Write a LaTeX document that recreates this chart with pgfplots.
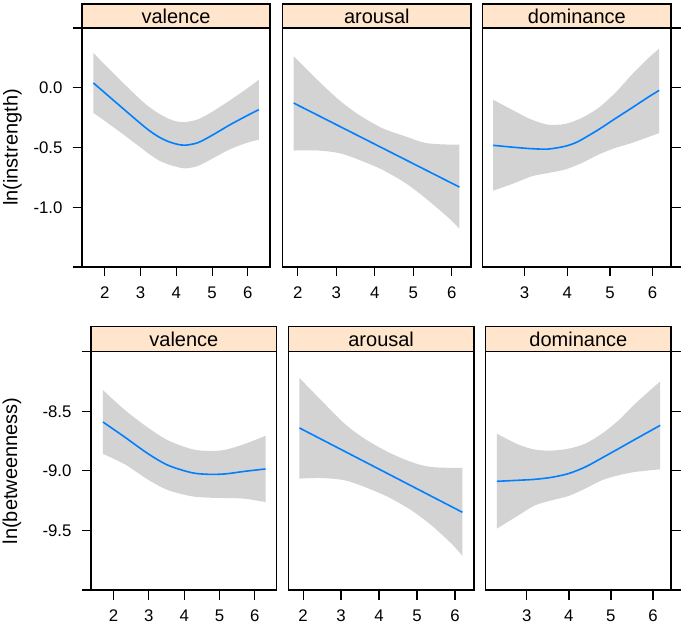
\documentclass[border=0pt]{standalone}
\usepackage{fontspec}
\setmainfont{Liberation Sans}
\usepackage{pgfplots}
\pgfplotsset{compat=1.18}
\usepgfplotslibrary{fillbetween}
\definecolor{band}{HTML}{D3D3D3}
\definecolor{fit}{HTML}{0080FF}
\definecolor{strip}{HTML}{FFE5CC}
\pgfplotsset{
  panel/.style={
    scale only axis, clip=false, anchor=north west,
    axis line style={line width=0.6pt, black},
    every tick/.style={black, line width=0.6pt},
    major tick length=4.75pt, tick align=outside,
    xtick pos=left, xtick={2,3,4,5,6},
    tick label style={font=\fontsize{8.4}{10}\selectfont, inner sep=1pt},
    xticklabel style={yshift=-3.8pt},
    yticklabel style={xshift=-3.8pt},
    /pgf/number format/assume math mode=true,
  },
  toprow/.style={ymin=-1.5, ymax=0.5, ytick={-1.5,-1,-0.5,0,0.5},
    yticklabels={,-1.0,-0.5,0.0,}, height=119.5pt},
  botrow/.style={ymin=-10, ymax=-8, ytick={-10,-9.5,-9,-8.5,-8},
    yticklabels={,-9.5,-9.0,-8.5,}, height=119.15pt},
  col1/.style={xmin=1.36, xmax=6.62, ytick pos=left},
  col2/.style={xmin=1.61, xmax=6.50, ytick=\empty},
  col3/.style={xmin=2.02, xmax=6.43, ytick pos=right, yticklabels={},
    yticklabel style={overlay}},
  fitline/.style={fit, line width=0.8pt, smooth},
}
\newcommand{\strip}[2]{%
  \draw[line width=0.6pt, fill=strip] (rel axis cs:0,1) rectangle ([yshift=#2]rel axis cs:1,1);
  \node[font=\fontsize{10}{12}\selectfont] at ([yshift=#2/2]rel axis cs:0.5,1) {#1};}
\begin{document}
\begin{tikzpicture}
\path (0,0) rectangle (342.5pt,-312pt);

% ---------- top row ----------
\begin{axis}[panel, toprow, col1, at={(41pt,-14pt)}, width=94pt]
\addplot[name path=hi, draw=none, smooth] coordinates {(1.68,0.291)(2.0,0.192)(2.5,0.043)(3.0,-0.100)(3.25,-0.163)(3.5,-0.214)(3.75,-0.255)(4.0,-0.281)(4.24,-0.287)(4.6,-0.265)(5.0,-0.202)(5.5,-0.105)(6.0,-0.002)(6.31,0.069)};
\addplot[name path=lo, draw=none, smooth] coordinates {(1.68,-0.211)(2.0,-0.278)(2.5,-0.387)(3.0,-0.500)(3.25,-0.557)(3.5,-0.606)(3.75,-0.639)(4.0,-0.661)(4.24,-0.675)(4.6,-0.655)(5.0,-0.594)(5.5,-0.515)(6.0,-0.458)(6.31,-0.435)};
\addplot[band, draw=none] fill between[of=hi and lo];
\addplot[fitline] coordinates {(1.68,0.040)(2.0,-0.043)(2.5,-0.172)(3.0,-0.300)(3.25,-0.360)(3.5,-0.410)(3.75,-0.447)(4.0,-0.471)(4.24,-0.481)(4.6,-0.460)(5.0,-0.398)(5.5,-0.310)(6.0,-0.230)(6.31,-0.183)};
\strip{valence}{12pt}
\node[rotate=90, inner sep=0pt, font=\fontsize{10}{12}\selectfont] at ([xshift=-34.75pt]rel axis cs:0,0.5) {ln(instrength)};
\end{axis}

\begin{axis}[panel, toprow, col2, at={(141.35pt,-14pt)}, width=94.15pt]
\addplot[name path=hi, draw=none, smooth] coordinates {(1.895,0.263)(2.458,0.082)(3.064,-0.100)(3.583,-0.225)(4.189,-0.337)(4.795,-0.407)(5.315,-0.462)(5.921,-0.476)(6.198,-0.476)};
\addplot[name path=lo, draw=none, smooth] coordinates {(1.895,-0.526)(2.458,-0.524)(3.064,-0.546)(3.583,-0.602)(4.189,-0.685)(4.795,-0.797)(5.315,-0.923)(5.921,-1.090)(6.198,-1.179)};
\addplot[band, draw=none] fill between[of=hi and lo];
\addplot[fitline] coordinates {(1.895,-0.128)(6.198,-0.831)};
\strip{arousal}{12pt}
\end{axis}

\begin{axis}[panel, toprow, col3, at={(241.35pt,-14pt)}, width=94.15pt]
\addplot[name path=hi, draw=none, smooth] coordinates {(2.265,-0.100)(2.773,-0.197)(3.165,-0.267)(3.556,-0.309)(3.947,-0.303)(4.338,-0.253)(4.730,-0.169)(5.121,-0.044)(5.512,0.109)(5.903,0.249)(6.154,0.327)};
\addplot[name path=lo, draw=none, smooth] coordinates {(2.265,-0.861)(2.773,-0.797)(3.165,-0.741)(3.556,-0.713)(3.947,-0.685)(4.338,-0.630)(4.730,-0.560)(5.121,-0.504)(5.512,-0.462)(6.154,-0.379)};
\addplot[band, draw=none] fill between[of=hi and lo];
\addplot[fitline] coordinates {(2.265,-0.482)(2.773,-0.499)(3.165,-0.510)(3.556,-0.513)(3.947,-0.490)(4.182,-0.462)(4.338,-0.434)(4.730,-0.351)(5.121,-0.259)(5.512,-0.169)(5.903,-0.077)(6.154,-0.022)};
\strip{dominance}{12pt}
\end{axis}

% ---------- bottom row ----------
\begin{axis}[panel, botrow, col1, at={(45.5pt,-175.85pt)}, width=92.85pt]
\addplot[name path=hi, draw=none, smooth] coordinates {(1.698,-8.322)(2.313,-8.488)(2.975,-8.638)(3.542,-8.744)(4.204,-8.817)(4.677,-8.833)(5.150,-8.824)(5.717,-8.774)(6.303,-8.706)};
\addplot[name path=lo, draw=none, smooth] coordinates {(1.698,-8.858)(2.313,-8.944)(2.975,-9.074)(3.542,-9.162)(4.204,-9.213)(4.677,-9.225)(5.150,-9.228)(5.717,-9.234)(6.303,-9.262)};
\addplot[band, draw=none] fill between[of=hi and lo];
\addplot[fitline] coordinates {(1.698,-8.590)(2.313,-8.716)(2.975,-8.856)(3.542,-8.953)(4.204,-9.015)(4.677,-9.029)(5.150,-9.026)(5.717,-9.004)(6.303,-8.984)};
\strip{valence}{12.5pt}
\node[rotate=90, inner sep=0pt, font=\fontsize{10}{12}\selectfont] at ([xshift=-39.5pt]rel axis cs:0,0.5) {ln(betweenness)};
\end{axis}

\begin{axis}[panel, botrow, col2, at={(144.15pt,-175.85pt)}, width=92.85pt]
\addplot[name path=hi, draw=none, smooth] coordinates {(1.904,-8.221)(2.476,-8.408)(3.091,-8.604)(3.619,-8.730)(4.235,-8.842)(4.850,-8.926)(5.378,-8.968)(6.196,-8.976)};
\addplot[name path=lo, draw=none, smooth] coordinates {(1.904,-9.065)(2.476,-9.060)(3.091,-9.079)(3.619,-9.135)(4.235,-9.219)(4.850,-9.331)(5.378,-9.457)(5.906,-9.611)(6.196,-9.714)};
\addplot[band, draw=none] fill between[of=hi and lo];
\addplot[fitline] coordinates {(1.904,-8.640)(6.196,-9.348)};
\strip{arousal}{12.5pt}
\end{axis}

\begin{axis}[panel, botrow, col3, at={(242.85pt,-175.85pt)}, width=92.65pt]
\addplot[name path=hi, draw=none, smooth] coordinates {(2.285,-8.688)(2.801,-8.780)(3.197,-8.822)(3.594,-8.830)(3.991,-8.814)(4.388,-8.772)(4.785,-8.688)(5.182,-8.576)(5.579,-8.436)(6.174,-8.249)};
\addplot[name path=lo, draw=none, smooth] coordinates {(2.285,-9.485)(2.801,-9.373)(3.197,-9.289)(3.594,-9.247)(3.991,-9.211)(4.388,-9.149)(4.785,-9.079)(5.182,-9.037)(5.579,-9.009)(6.174,-8.987)};
\addplot[band, draw=none] fill between[of=hi and lo];
\addplot[fitline] coordinates {(2.285,-9.088)(2.801,-9.079)(3.197,-9.071)(3.594,-9.054)(3.991,-9.023)(4.388,-8.968)(4.785,-8.892)(5.182,-8.814)(5.579,-8.735)(6.174,-8.618)};
\strip{dominance}{12.5pt}
\end{axis}
\end{tikzpicture}
\end{document}
